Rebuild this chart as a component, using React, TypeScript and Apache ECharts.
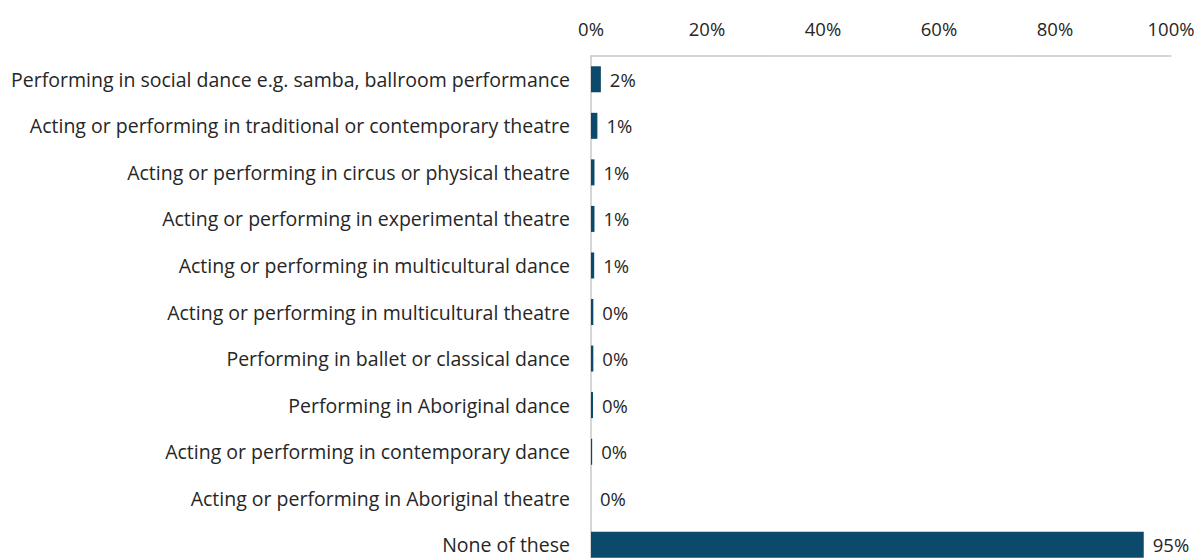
import React, { useEffect, useRef } from "react";
import * as echarts from "echarts";

const categories: string[] = [
  "Performing in social dance e.g. samba, ballroom performance",
  "Acting or performing in traditional or contemporary theatre",
  "Acting or performing in circus or physical theatre",
  "Acting or performing in experimental theatre",
  "Acting or performing in multicultural dance",
  "Acting or performing in multicultural theatre",
  "Performing in ballet or classical dance",
  "Performing in Aboriginal dance",
  "Acting or performing in contemporary dance",
  "Acting or performing in Aboriginal theatre",
  "None of these",
];

const values: number[] = [1.7, 1.1, 0.6, 0.6, 0.55, 0.4, 0.4, 0.35, 0.2, 0.0, 95.3];

const axisMin = 0;
const axisMax = 100;
const axisInterval = 20;

const FONT = "'Open Sans', sans-serif";

export default function App() {
  const ref = useRef<HTMLDivElement>(null);
  useEffect(() => {
    if (!ref.current) return;
    const chart = echarts.init(ref.current, undefined, { renderer: "svg" });
    chart.setOption({
      animation: false,
      backgroundColor: "#ffffff",
      textStyle: { fontFamily: FONT },
      grid: { left: 591, top: 56, width: 580, height: 512, containLabel: false },
      xAxis: {
        type: "value",
        position: "top",
        min: axisMin,
        max: axisMax,
        interval: axisInterval,
        axisLine: { show: true, lineStyle: { color: "#c8c8c8", width: 1.5 } },
        axisTick: { show: false },
        splitLine: { show: false },
        axisLabel: {
          formatter: "{value}%",
          color: "#262626",
          fontSize: 18.5,
          fontFamily: FONT,
          margin: 18,
        },
      },
      yAxis: {
        type: "category",
        inverse: true,
        data: categories,
        axisLine: { show: true, lineStyle: { color: "#c8c8c8", width: 1.5 } },
        axisTick: { show: false },
        axisLabel: {
          color: "#262626",
          fontSize: 19.5,
          fontFamily: FONT,
          margin: 21,
        },
      },
      series: [
        {
          type: "bar",
          data: values,
          barWidth: 26,
          itemStyle: { color: "#0b4a6b" },
          label: {
            show: true,
            position: "right",
            distance: 9,
            color: "#262626",
            fontSize: 18.5,
            fontFamily: FONT,
            formatter: (p: any) => Math.round(p.value) + "%",
          },
        },
      ],
    });
    return () => chart.dispose();
  }, []);
  return (
    <div
      style={{
        position: "absolute",
        left: 0,
        top: 0,
        width: 1200,
        height: 558,
        overflow: "hidden",
      }}
    >
      <div ref={ref} style={{ width: 1200, height: 590 }} />
    </div>
  );
}
